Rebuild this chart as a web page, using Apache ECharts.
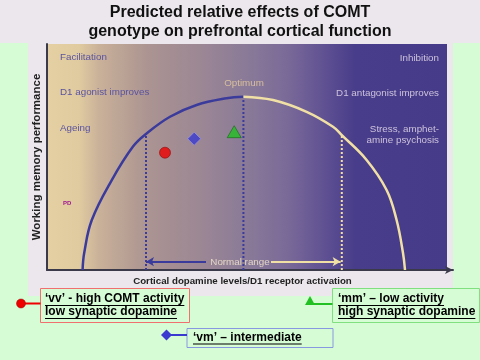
<!DOCTYPE html>
<html><head><meta charset="utf-8">
<script src="https://cdn.jsdelivr.net/npm/echarts@6/dist/echarts.min.js"></script>
<style>html,body{margin:0;padding:0;background:#d6fcd6;}#c{width:480px;height:360px;}</style>
</head><body><div id="c"></div>
<script>
// ---- data ----
const curveRise = [[8.9,0],[9.3,7.5],[11.2,22.1],[16.2,39.8],[21.5,54.6],[24.75,60.2],[30.75,67.8],[37.4,73.0],[44.9,76.0],[49.1,76.7]];
const curveFall = [[49.1,76.7],[56.5,75.2],[64.9,70.0],[71.5,63.4],[73.7,59.7],[79.9,48.7],[84.9,35.4],[87.4,22.1],[89.0,7.5],[89.5,0]];
const lowLine = [[24.75,0],[24.75,60.2]];
const optLine = [[49.1,0],[49.1,76.7]];
const highLine = [[73.7,0],[73.7,59.7]];
const normalArrowY = 3.7;
const normalLeft = [[39.75,normalArrowY],[24.75,normalArrowY]];
const normalRight = [[56.0,normalArrowY],[73.4,normalArrowY]];
const vvPoint = [[29.5,51.9]];
const vmPoint = [[36.8,58.1]];
const mmPoint = [[46.8,61.2]];
const titleLines = ['Predicted relative effects of COMT','genotype on prefrontal cortical function'];
const xName = 'Cortical dopamine levels/D1 receptor activation';
const yName = 'Working memory performance';

const chart = echarts.init(document.getElementById('c'));
const F = '"Liberation Sans", Arial, sans-serif';
const ctx = document.createElement('canvas').getContext('2d');
function tw(t, font){ ctx.font = font; return ctx.measureText(t).width; }

const LF = 'bold 12px ' + F;
function legendText(x, y, t){
  const w = tw(t, LF);
  return [
    {type:'text', z:10, style:{text:t, x:x, y:y, font:LF, fill:'#000', align:'left', verticalAlign:'middle'}},
    {type:'line', z:10, shape:{x1:x, y1:y+6.5, x2:x+w, y2:y+6.5}, style:{stroke:'#000', lineWidth:1}}
  ];
}
const grad = new echarts.graphic.LinearGradient(0,0,1,0,[
  {offset:0, color:'#e4d0a2'},
  {offset:0.08, color:'#e0cba0'},
  {offset:0.13, color:'#c9b199'},
  {offset:0.25, color:'#ac9492'},
  {offset:0.38, color:'#9c8794'},
  {offset:0.5, color:'#8a7a98'},
  {offset:0.6, color:'#7a6a98'},
  {offset:0.7, color:'#5e4f92'},
  {offset:0.77, color:'#483d8a'},
  {offset:1, color:'#453b89'}
]);

const T = 'bold 16px ' + F;
const AF = '9.8px ' + F;
const graphics = [
  {type:'rect', z:-10, shape:{x:0,y:0,width:480,height:43}, style:{fill:'#ebe7ec'}},
  {type:'rect', z:-10, shape:{x:28,y:43,width:425,height:253}, style:{fill:'#ebe7ec'}},
  {type:'rect', z:-5, shape:{x:47,y:44,width:400,height:226}, style:{fill:grad}},
  {type:'text', style:{text:titleLines[0], x:240, y:12.5, font:T, fill:'#111', align:'center', verticalAlign:'middle'}},
  {type:'text', style:{text:titleLines[1], x:240, y:31.5, font:T, fill:'#111', align:'center', verticalAlign:'middle'}},
  {type:'text', z:5, style:{text:'Facilitation', x:60, y:57, font:AF, fill:'#5a52a0', align:'left', verticalAlign:'middle'}},
  {type:'text', z:5, style:{text:'D1 agonist improves', x:60, y:92.5, font:AF, fill:'#5a52a0', align:'left', verticalAlign:'middle'}},
  {type:'text', z:5, style:{text:'Ageing', x:60, y:128, font:AF, fill:'#5a52a0', align:'left', verticalAlign:'middle'}},
  {type:'text', z:5, style:{text:'PD', x:63, y:203, font:'bold 6px ' + F, fill:'#a01890', align:'left', verticalAlign:'middle'}},
  {type:'text', z:5, style:{text:'Optimum', x:244, y:83, font:AF, fill:'#d8bf9e', align:'center', verticalAlign:'middle'}},
  {type:'text', z:5, style:{text:'Inhibition', x:439, y:58, font:AF, fill:'#cdc2dc', align:'right', verticalAlign:'middle'}},
  {type:'text', z:5, style:{text:'D1 antagonist improves', x:439, y:93, font:AF, fill:'#cdc2dc', align:'right', verticalAlign:'middle'}},
  {type:'text', z:5, style:{text:'Stress, amphet-', x:439, y:129, font:AF, fill:'#cdc2dc', align:'right', verticalAlign:'middle'}},
  {type:'text', z:5, style:{text:'amine psychosis', x:439, y:140.5, font:AF, fill:'#cdc2dc', align:'right', verticalAlign:'middle'}},
  {type:'text', z:5, style:{text:'Normal range', x:240, y:262, font:AF, fill:'#e2d6c4', align:'center', verticalAlign:'middle'}},
  // legend boxes
  {type:'rect', z:8, shape:{x:40.5,y:288.5,width:149,height:34}, style:{fill:'#d6fcd6', stroke:'#f07070', lineWidth:1}},
  {type:'rect', z:8, shape:{x:332.5,y:288.5,width:147,height:34}, style:{fill:'#d6fcd6', stroke:'#80e080', lineWidth:1}},
  {type:'rect', z:8, shape:{x:187,y:328.5,width:146,height:19}, style:{fill:'#d6fcd6', stroke:'#8898e0', lineWidth:1}},
  {type:'line', z:8, shape:{x1:21,y1:303.5,x2:40.5,y2:303.5}, style:{stroke:'#ee0000', lineWidth:2}},
  {type:'circle', z:9, shape:{cx:21,cy:303.5,r:4.5}, style:{fill:'#ee0000', stroke:'#990000', lineWidth:0.5}},
  {type:'line', z:8, shape:{x1:311,y1:304,x2:332.5,y2:304}, style:{stroke:'#22c022', lineWidth:2}},
  {type:'polygon', z:9, shape:{points:[[310,296],[315,305],[305,305]]}, style:{fill:'#22c022'}},
  {type:'line', z:8, shape:{x1:167,y1:335,x2:187,y2:335}, style:{stroke:'#3a3ad0', lineWidth:2}},
  {type:'polygon', z:9, shape:{points:[[166.5,329.5],[172,335],[166.5,340.5],[161,335]]}, style:{fill:'#3a3ad0'}}
].concat(
  legendText(45, 299, '\u2018vv\u2019 - high COMT activity'),
  legendText(45, 312, 'low synaptic dopamine'),
  legendText(338, 299, '\u2018mm\u2019 \u2013 low activity'),
  legendText(338, 312, 'high synaptic dopamine'),
  legendText(193, 337.5, '\u2018vm\u2019 \u2013 intermediate')
);

const blue = '#3b3b9c', cream = '#f0e0a6';
chart.setOption({
  animation:false,
  grid:{left:47, top:44, width:406, height:226, containLabel:false},
  xAxis:{type:'value', min:0, max:101.5, name:xName, nameLocation:'middle', nameGap:6,
    nameTextStyle:{fontFamily:F, fontWeight:'bold', fontSize:9.7, color:'#222', verticalAlign:'top', padding:[0,15,0,0]},
    axisLine:{show:true, symbol:['none','arrow'], symbolSize:[6,8], lineStyle:{color:'#3a3a4a', width:2}},
    axisTick:{show:false}, axisLabel:{show:false}, splitLine:{show:false}},
  yAxis:{type:'value', min:0, max:100, name:yName, nameLocation:'middle', nameGap:4, nameRotate:90,
    nameTextStyle:{fontFamily:F, fontWeight:'bold', fontSize:11.5, color:'#222', verticalAlign:'bottom', padding:[0,0,0,0]},
    axisLine:{show:true, lineStyle:{color:'#3a3a4a', width:2}},
    axisTick:{show:false}, axisLabel:{show:false}, splitLine:{show:false}},
  graphic:graphics,
  series:[
    {type:'line', data:lowLine, symbol:'none', lineStyle:{color:blue, width:2, type:[2,2]},
      markLine:{silent:true, symbol:['none','arrow'], symbolSize:[7,8], label:{show:false},
        lineStyle:{color:blue, width:2, type:'solid'},
        data:[[{coord:normalLeft[0]},{coord:normalLeft[1]}]]}},
    {type:'line', data:optLine, symbol:'none', lineStyle:{color:blue, width:2, type:[2,2]}},
    {type:'line', data:highLine, symbol:'none', lineStyle:{color:cream, width:2, type:[2,2]},
      markLine:{silent:true, symbol:['none','arrow'], symbolSize:[7,8], label:{show:false},
        lineStyle:{color:cream, width:2, type:'solid'},
        data:[[{coord:normalRight[0]},{coord:normalRight[1]}]]}},
    {type:'line', data:curveRise, symbol:'none', smooth:0.4, lineStyle:{color:blue, width:2.5}},
    {type:'line', data:curveFall, symbol:'none', smooth:0.4, lineStyle:{color:cream, width:2.5}},
    {type:'scatter', data:vvPoint, symbol:'circle', symbolSize:11, itemStyle:{color:'#ee0000', borderColor:'#880000', borderWidth:0.7}, z:5},
    {type:'scatter', data:vmPoint, symbol:'diamond', symbolSize:[13,13], itemStyle:{color:'#3a3ad0', borderColor:'#a0a0f0', borderWidth:0.7}, z:5},
    {type:'scatter', data:mmPoint, symbol:'triangle', symbolSize:[14,12], itemStyle:{color:'#22c022', borderColor:'#0a600a', borderWidth:0.7}, z:5}
  ]
});
</script></body></html>
